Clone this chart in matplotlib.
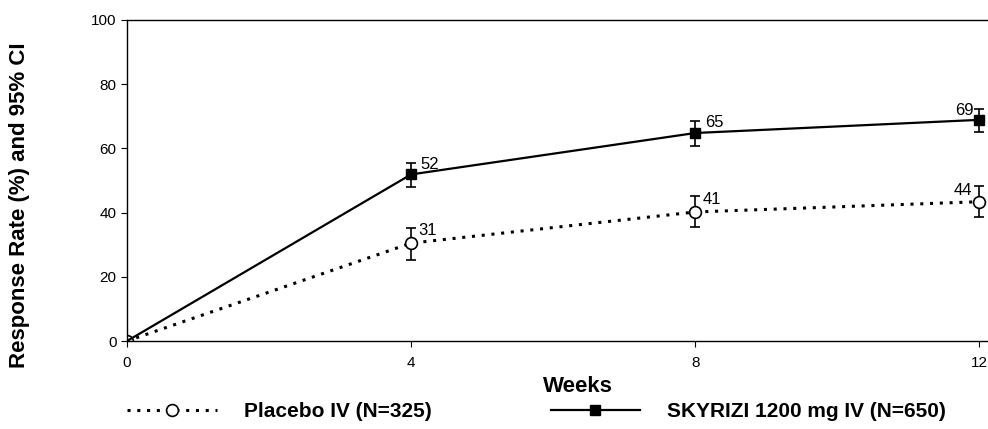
import matplotlib.pyplot as plt

# 데이터
weeks = [0, 4, 8, 12]
sky_rate = [0, 51.9, 64.8, 68.9]
sky_lo = [0, 48.1, 60.8, 65.0]
sky_hi = [0, 55.5, 68.4, 72.3]
sky_labels = ['', '52', '65', '69']

pbo_rate = [0, 30.5, 40.2, 43.4]
pbo_lo = [0, 25.4, 35.6, 38.5]
pbo_hi = [0, 35.2, 45.1, 48.2]
pbo_labels = ['', '31', '41', '44']

plt.rcParams['font.family'] = ['Liberation Sans', 'DejaVu Sans']

fig = plt.figure(figsize=(9.88, 4.29), dpi=100)
ax = fig.add_axes([0.1285, 0.205, 0.8735, 0.7484])

# Placebo (점선, 빈 원)
pbo_err = [[r - l for r, l in zip(pbo_rate, pbo_lo)], [h - r for r, h in zip(pbo_rate, pbo_hi)]]
ax.errorbar(weeks, pbo_rate, yerr=pbo_err, fmt='none', ecolor='black', elinewidth=1.2,
            capsize=3.6, capthick=1.2, zorder=2)
ax.plot(weeks, pbo_rate, linestyle=(0, (1, 2.2)), color='black', linewidth=2.2,
        marker='o', markersize=8.5, markerfacecolor='white', markeredgecolor='black',
        markeredgewidth=1.2, zorder=3)

# SKYRIZI (실선, 채운 사각형)
sky_err = [[r - l for r, l in zip(sky_rate, sky_lo)], [h - r for r, h in zip(sky_rate, sky_hi)]]
ax.errorbar(weeks, sky_rate, yerr=sky_err, fmt='none', ecolor='black', elinewidth=1.2,
            capsize=3.6, capthick=1.2, zorder=2)
ax.plot(weeks, sky_rate, color='black', linewidth=1.6, marker='s', markersize=7,
        markevery=[1, 2, 3], zorder=4)
ax.plot(weeks[0], sky_rate[0], marker='+', color='black', markersize=8.5, mew=1.0, zorder=5)

# 값 라벨
for i in range(1, len(weeks)):
    if i < len(weeks) - 1:
        ax.annotate(sky_labels[i], (weeks[i], sky_hi[i]), xytext=(7, -1), textcoords='offset points',
                    ha='left', va='center', fontsize=12)
        ax.annotate(pbo_labels[i], (weeks[i], pbo_hi[i]), xytext=(5, -2), textcoords='offset points',
                    ha='left', va='center', fontsize=12)
    else:
        ax.annotate(sky_labels[i], (weeks[i], sky_hi[i]), xytext=(-4, -1), textcoords='offset points',
                    ha='right', va='center', fontsize=12)
        ax.annotate(pbo_labels[i], (weeks[i], pbo_hi[i]), xytext=(-5, -3), textcoords='offset points',
                    ha='right', va='center', fontsize=12)

ax.set_xlim(0, 12.15)
ax.set_ylim(0, 100)
ax.set_xticks(weeks)
ax.set_yticks([0, 20, 40, 60, 80, 100])
ax.tick_params(axis='both', labelsize=11, length=4, width=0.8, direction='out')
ax.tick_params(axis='x', pad=7)
ax.spines['right'].set_visible(False)
for s in ['left', 'bottom', 'top']:
    ax.spines[s].set_linewidth(1.0)

fig.text(0.585, 0.1, 'Weeks', fontsize=16, fontweight='bold', ha='center', va='center')
fig.text(0.02, 0.522, 'Response Rate (%) and 95% CI', rotation=90, fontsize=16,
         fontweight='bold', ha='center', va='center')

# 범례
h1, = ax.plot([], [], linestyle=(0, (1, 2.2)), color='black', linewidth=2.2, marker='o',
              markersize=8.5, markerfacecolor='white', markeredgewidth=1.2)
h2, = ax.plot([], [], color='black', linewidth=1.6, marker='s', markersize=7)
fig.legend([h1, h2], ['Placebo IV (N=325)', 'SKYRIZI 1200 mg IV (N=650)'],
           loc='lower left', bbox_to_anchor=(0.11, -0.025), ncol=2, frameon=False,
           prop={'size': 15, 'weight': 'bold'}, handlelength=4.3, columnspacing=5.7,
           handletextpad=1.3)

fig.savefig('out.png', dpi=100)
